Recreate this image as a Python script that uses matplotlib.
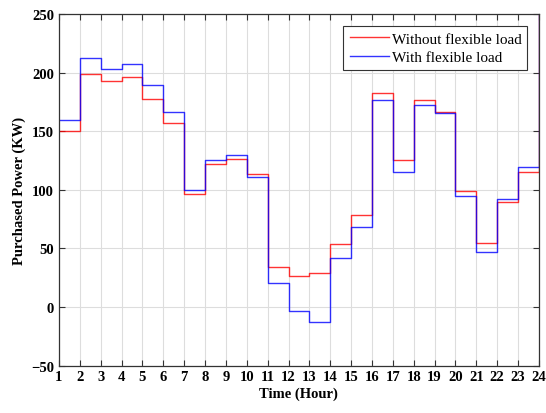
import matplotlib
matplotlib.use('Agg')
import matplotlib.pyplot as plt
import numpy as np

plt.rcParams['font.family'] = ['Liberation Serif', 'DejaVu Serif']

hours = list(range(1, 25))
# purchased power per hour (KW); last value only sets the closing riser at hour 24
without_flex = [150, 199, 193.5, 196.5, 178, 157.5, 96.5, 122, 126.5, 113.5, 34.5, 26.5,
                29, 54, 79, 182.5, 126, 177, 166.5, 99, 55, 90, 115.5, 260]
with_flex = [160, 213, 203.5, 208, 190, 167, 100, 125.5, 129.5, 111, 20.5, -3,
             -13, 42, 68.5, 176.5, 115.5, 173, 166, 95, 47, 92, 119.5, 260]

fig = plt.figure(figsize=(5.46, 4.14), dpi=100)
ax = fig.add_axes([0.108, 0.1147, 0.879, 0.848])

ax.step(hours, without_flex, where='post', color='#ff0000', lw=1.0, alpha=0.8,
        label='Without flexible load')
ax.step(hours, with_flex, where='post', color='#0000ff', lw=1.0, alpha=0.8,
        label='With flexible load')

ax.set_xlim(1, 24)
ax.set_ylim(-50, 250)
ax.set_xticks(hours)
ax.set_yticks(np.arange(-50, 251, 50))
ax.grid(True, color='#dddddd', lw=0.8)
ax.set_axisbelow(True)
ax.tick_params(direction='in', top=True, right=True, length=4, color='#333333',
               labelsize=10.5)
for lab in ax.get_xticklabels() + ax.get_yticklabels():
    lab.set_fontweight('bold')
for sp in ax.spines.values():
    sp.set_color('#333333')
    sp.set_linewidth(0.9)

ax.set_xlabel('Time (Hour)', fontweight='bold', fontsize=10.5, labelpad=2)
ax.set_ylabel('Purchased Power (KW)', fontweight='bold', fontsize=10.5, labelpad=4)

leg = ax.legend(loc='upper right', fontsize=11, fancybox=False, framealpha=1,
                edgecolor='#333333', borderaxespad=0.75, handlelength=2.55,
                handletextpad=0.2, borderpad=0.4, labelspacing=0.3)
leg.get_frame().set_linewidth(0.8)

fig.savefig('out.png', dpi=100)
